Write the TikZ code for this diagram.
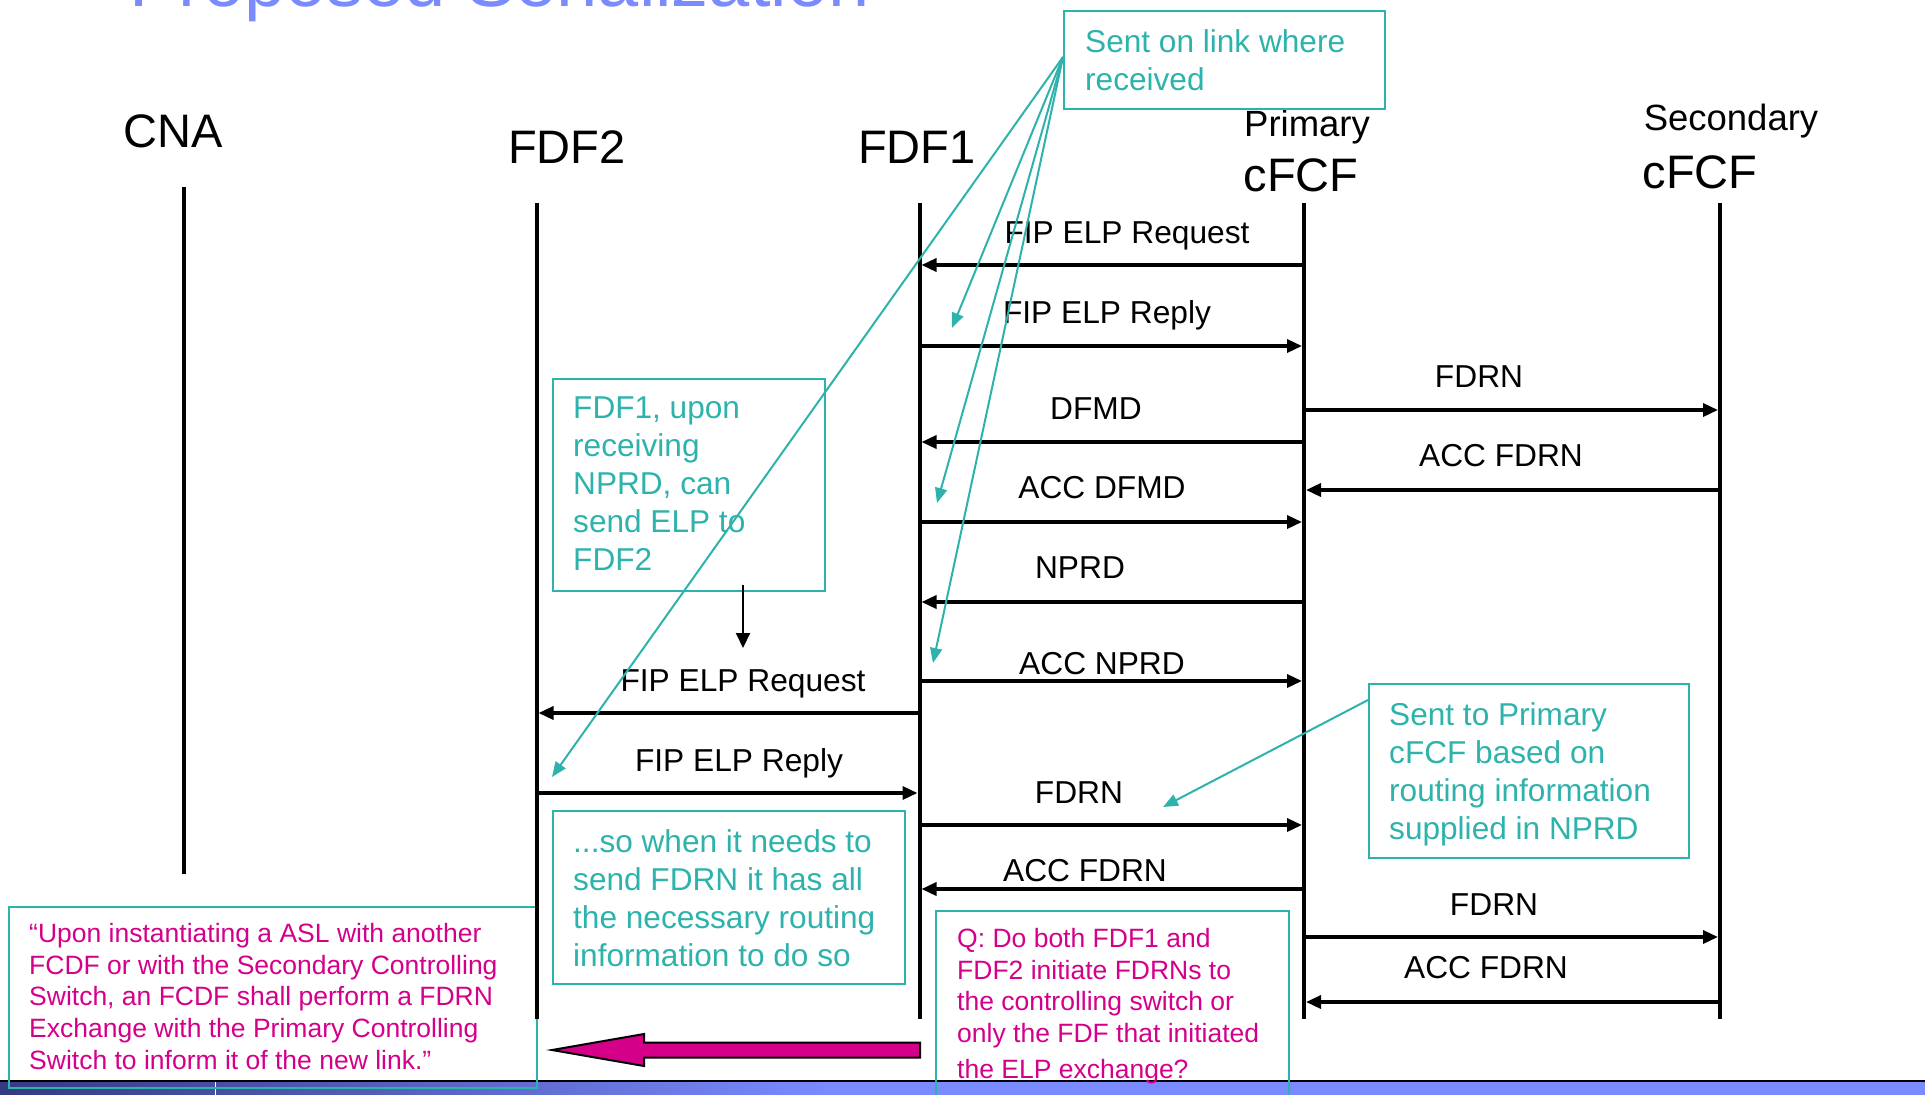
\documentclass[tikz,border=0pt]{standalone}
\usepackage{fontspec}
\setmainfont{Liberation Sans}
\usetikzlibrary{arrows.meta}
\definecolor{tealc}{RGB}{46,178,172}
\definecolor{magc}{RGB}{212,0,138}
\definecolor{titleblue}{RGB}{122,138,255}
\definecolor{stripdark}{RGB}{52,58,130}
\newcommand{\myhdrfont}{\fontsize{47}{56}\selectfont}
\newcommand{\mysubfont}{\fontsize{36.5}{44}\selectfont}
\newcommand{\mymsgfont}{\fontsize{31.7}{38}\selectfont}
\newcommand{\mynotefont}{\fontsize{31.6}{38}\selectfont}
\newcommand{\myquotefont}{\fontsize{26.5}{31.7}\selectfont}
\newcommand{\mytitlefont}{\fontsize{74}{88}\selectfont}
\begin{document}
\begin{tikzpicture}[x=1pt,y=-1pt,
  life/.style={line width=4pt},
  msgarrow/.style={line width=3.4pt,-{Triangle[length=15pt,width=13pt]},shorten >=2pt},
  lbl/.style={font=\mymsgfont,anchor=base,inner sep=0pt},
  hdr/.style={font=\myhdrfont,anchor=base,inner sep=0pt},
  subhdr/.style={font=\mysubfont,anchor=base,inner sep=0pt},
  notebox/.style={draw=tealc,line width=2pt,anchor=north west,inner sep=0pt},
  notetext/.style={text=tealc,font=\mynotefont,align=left,anchor=north west,inner sep=0pt},
  quotetext/.style={text=magc,font=\myquotefont,align=left,anchor=north west,inner sep=0pt},
  callout/.style={draw=tealc,line width=2pt,-{Triangle[length=15pt,width=12pt]}}
]
\useasboundingbox (0,0) rectangle (1925,1095);

% bottom strip
\fill[titleblue] (0,1081) rectangle (1925,1095);
\shade[left color=stripdark,right color=titleblue] (0,1082) rectangle (830,1095);
\draw[white,line width=1pt] (215,1082) -- (215,1095);
\draw[black,line width=1.2pt] (0,1081) -- (1925,1081);

% title (cut off at top)
\node[font=\mytitlefont,text=titleblue,anchor=base west,inner sep=0pt] (title) at (129,6) {Proposed Serialization};

% headers
\node[hdr] (hcna) at (173,147) {CNA};
\node[hdr] (hfdf2) at (567,163) {FDF2};
\node[hdr] (hfdf1) at (917,163) {FDF1};
\node[subhdr] (hprim) at (1307,136) {Primary};
\node[hdr] (hprimc) at (1301,191) {cFCF};
\node[subhdr] (hsec) at (1731,130) {Secondary};
\node[hdr] (hsecc) at (1700,188) {cFCF};

% lifelines
\coordinate (cnaT) at (184,187);   \coordinate (cnaB) at (184,874);
\coordinate (fdf2) at (536.5,203); \coordinate (fdf2B) at (536.5,1019);
\coordinate (fdf1) at (919.5,203); \coordinate (fdf1B) at (919.5,1019);
\coordinate (prim) at (1304,203);  \coordinate (primB) at (1304,1019);
\coordinate (sec) at (1720,203);   \coordinate (secB) at (1720,1019);

% note boxes
\node[notebox,minimum width=321pt,minimum height=98pt] (boxA) at (1063,10) {};
\node[notebox,minimum width=272pt,minimum height=212pt] (boxB) at (552,378) {};
\node[notebox,minimum width=352pt,minimum height=173pt] (boxC) at (552,810) {};
\node[notebox,minimum width=320pt,minimum height=174pt] (boxD) at (1368,683) {};
\node[notebox,minimum width=528pt,minimum height=181pt] (boxE) at (8,906) {};
\node[notebox,minimum width=353pt,minimum height=200pt] (boxF) at (935,910) {};

\draw[life] (cnaT) -- (cnaB);
\draw[life] (fdf2) -- (fdf2B);
\draw[life] (fdf1) -- (fdf1B);
\draw[life] (prim) -- (primB);
\draw[life] (sec) -- (secB);

% messages
\draw[msgarrow] (prim |- 0,265) -- (fdf1 |- 0,265);
\node[lbl] (m1) at (1127,243) {FIP ELP Request};
\draw[msgarrow] (fdf1 |- 0,346) -- (prim |- 0,346);
\node[lbl] (m2) at (1107,323) {FIP ELP Reply};
\draw[msgarrow] (prim |- 0,410) -- (sec |- 0,410);
\node[lbl] (m3) at (1479,387) {FDRN};
\draw[msgarrow] (prim |- 0,442) -- (fdf1 |- 0,442);
\node[lbl] (m4) at (1096,419) {DFMD};
\draw[msgarrow] (sec |- 0,490) -- (prim |- 0,490);
\node[lbl] (m5) at (1501,466) {ACC FDRN};
\draw[msgarrow] (fdf1 |- 0,522) -- (prim |- 0,522);
\node[lbl] (m6) at (1102,498) {ACC DFMD};
\draw[msgarrow] (prim |- 0,602) -- (fdf1 |- 0,602);
\node[lbl] (m7) at (1080,578) {NPRD};
\draw[msgarrow] (fdf1 |- 0,681) -- (prim |- 0,681);
\node[lbl] (m8) at (1102,674) {ACC NPRD};
\draw[msgarrow] (fdf1 |- 0,713) -- (fdf2 |- 0,713);
\node[lbl] (m9) at (743,691) {FIP ELP Request};
\draw[msgarrow] (fdf2 |- 0,793) -- (fdf1 |- 0,793);
\node[lbl] (m10) at (739,771) {FIP ELP Reply};
\draw[msgarrow] (fdf1 |- 0,825) -- (prim |- 0,825);
\node[lbl] (m11) at (1079,803) {FDRN};
\draw[msgarrow] (prim |- 0,889) -- (fdf1 |- 0,889);
\node[lbl] (m12) at (1085,881) {ACC FDRN};
\draw[msgarrow] (prim |- 0,937) -- (sec |- 0,937);
\node[lbl] (m13) at (1494,915) {FDRN};
\draw[msgarrow] (sec |- 0,1002) -- (prim |- 0,1002);
\node[lbl] (m14) at (1486,978) {ACC FDRN};

% note texts
\node[notetext] (tA) at (1085,29) {Sent on link where\\received};
\node[notetext] (tB) at (573,397) {FDF1, upon\\receiving\\NPRD, can\\send ELP to\\FDF2};
\node[notetext] (tC) at (573,829) {...so when it needs to\\send FDRN it has all\\the necessary routing\\information to do so};
\node[notetext] (tD) at (1389,702) {Sent to Primary\\cFCF based on\\routing information\\supplied in NPRD};
\node[quotetext] (tE) at (29,923) {“Upon instantiating a ASL with another\\FCDF or with the Secondary Controlling\\Switch, an FCDF shall perform a FDRN\\Exchange with the Primary Controlling\\Switch to inform it of the new link.”};
\node[quotetext] (tF) at (957,928) {Q: Do both FDF1 and\\FDF2 initiate FDRNs to\\the controlling switch or\\only the FDF that initiated\\[4.5pt]the ELP exchange?};

% callout connectors
\coordinate (aStart) at (1063,57);
\coordinate (a1) at (952,328);
\coordinate (a2) at (937,503);
\coordinate (a3) at (933,663);
\coordinate (a4) at (552,777);
\draw[callout] (aStart) -- (a1);
\draw[callout] (aStart) -- (a2);
\draw[callout] (aStart) -- (a3);
\draw[callout] (aStart) -- (a4);
\coordinate (dStart) at (1368,700);
\coordinate (d1) at (1163,807);
\draw[callout] (dStart) -- (d1);

% small black arrow from box B
\coordinate (bOut) at (743,585);
\coordinate (bIn) at (743,648);
\draw[line width=2pt,-{Triangle[length=15pt,width=14pt]}] (bOut) -- (bIn);

% big magenta arrow
\draw[fill=magc,draw=black,line width=2pt,line join=miter]
  (920,1042.5) -- (644,1042.5) -- (644,1034) -- (552,1050) -- (644,1066) -- (644,1057.5) -- (920,1057.5) -- cycle;
\end{tikzpicture}
\end{document}
